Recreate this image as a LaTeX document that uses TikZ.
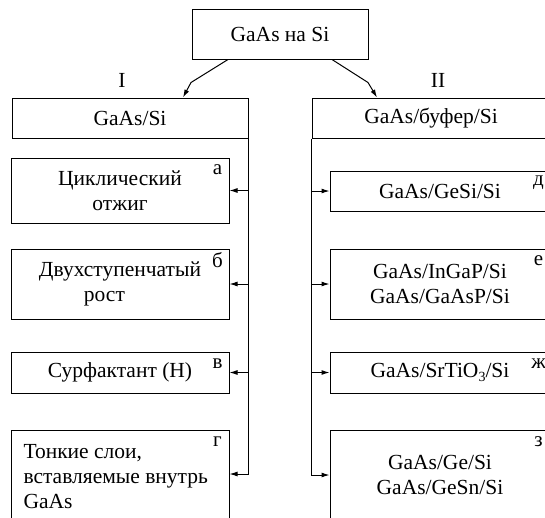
\documentclass[tikz,border=0pt]{standalone}
\usepackage{fontspec}
\setmainfont{Liberation Serif}
\newfontfamily\tnr{Liberation Serif}
\usetikzlibrary{arrows.meta,calc}
\begin{document}
\begin{tikzpicture}[x=1pt,y=-1pt, line width=1pt,
  box/.style={draw, inner sep=0pt, align=center, font=\tnr\fontsize{21.5}{25}\selectfont},
  txt/.style={inner sep=0pt, font=\tnr\fontsize{21.5}{25}\selectfont},
  lbl/.style={inner sep=0pt, font=\tnr\fontsize{21}{24}\selectfont},
  arr/.style={-{Latex[length=8pt,width=5pt]}}]
\useasboundingbox (0,0) rectangle (545,517);
\clip (0,0) rectangle (545,517);

% top
\node[box, minimum width=176pt, minimum height=50pt] (top) at (280,34) {GaAs на Si};
\node[box, minimum width=236pt, minimum height=40pt] (L) at (130,118) {GaAs/Si};
\node[box, minimum width=238pt, minimum height=40pt] (R) at (431,118) {GaAs/буфер/Si};

\node[txt] (lI) at (122,80) {I};
\node[txt] (lII) at (438,80) {II};

\draw[arr] ($(top.south)+(-52,0)$) -- ($(L.north)+(61,-15)$) -- ($(L.north)+(53,0)$);
\draw[arr] ($(top.south)+(52,0)$) -- ($(R.north)+(-63,-15)$) -- ($(R.north)+(-54,0)$);

% left column
\node[box, minimum width=218pt, minimum height=65pt] (a) at (120,190.5) {Циклический\\отжиг};
\node[box, minimum width=218pt, minimum height=70pt, align=left] (b) at (120,284) {Двухступенчатый\\\hspace*{45pt}рост};
\node[box, minimum width=218pt, minimum height=41pt] (v) at (120,372.5) {Сурфактант (Н)};
\node[box, minimum width=218pt, minimum height=88pt] (g) at (120,474) {};
\node[txt, anchor=north west, align=left] (gt) at (23,444) {Тонкие слои,\\вставляемые внутрь\\GaAs};

% right column
\node[box, minimum width=220pt, minimum height=40pt] (d) at (440,191) {GaAs/GeSi/Si};
\node[box, minimum width=220pt, minimum height=70pt] (e) at (440,284) {GaAs/InGaP/Si\\GaAs/GaAsP/Si};
\node[box, minimum width=220pt, minimum height=41pt] (zh) at (440,372.5) {GaAs/SrTiO\raisebox{-4pt}{\fontsize{14}{14}\selectfont 3}/Si};
\node[box, minimum width=220pt, minimum height=90pt] (z) at (440,475) {GaAs/Ge/Si\\GaAs/GeSn/Si};

% letters
\foreach \n/\t in {a/а, b/б, v/в, g/г, d/д, e/е, zh/ж, z/з}
  \node[lbl] (l\n) at ([xshift=-12pt,yshift=-12pt]\n.north east) {\t};

% connectors left
\draw[arr] (L.south east) -- (L.south east |- g.east) -- (g.east);
\draw[arr] (L.south east |- a.east) -- (a.east);
\draw[arr] (L.south east |- b.east) -- (b.east);
\draw[arr] (L.south east |- v.east) -- (v.east);

% connectors right
\draw[arr] (R.south west) -- (R.south west |- z.west) -- (z.west);
\draw[arr] (R.south west |- d.west) -- (d.west);
\draw[arr] (R.south west |- e.west) -- (e.west);
\draw[arr] (R.south west |- zh.west) -- (zh.west);
\end{tikzpicture}
\end{document}
